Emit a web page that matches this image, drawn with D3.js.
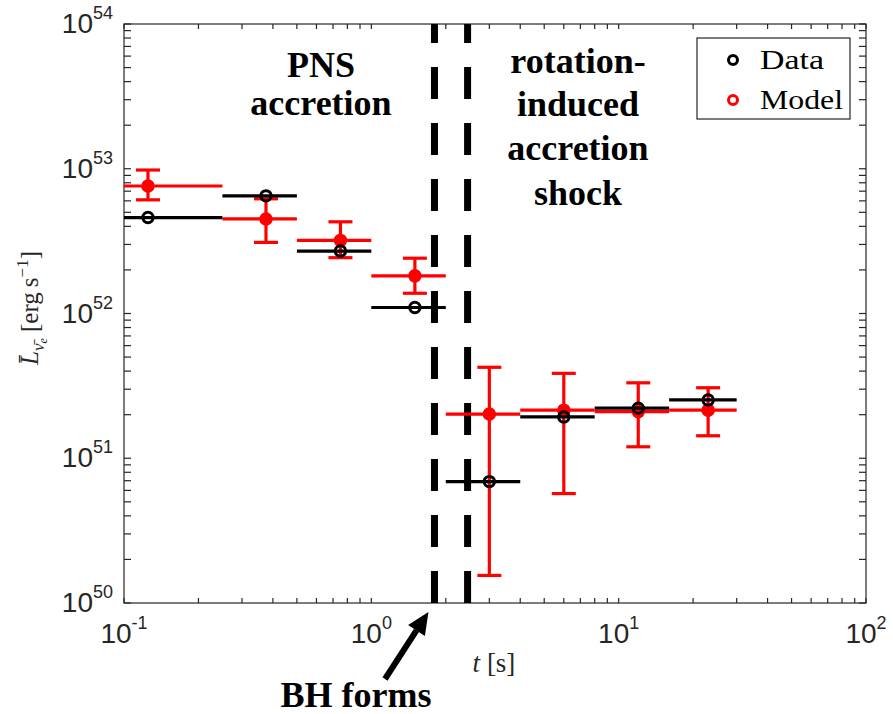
<!DOCTYPE html>
<html>
<head>
<meta charset="utf-8">
<script src="https://cdn.jsdelivr.net/npm/d3@7"></script>
<style>
  html, body { margin: 0; padding: 0; background: #fff; }
  svg { display: block; }
</style>
</head>
<body>
<svg id="chart" width="893" height="714"></svg>
<script>
// Time bins [s]
const binCenter = [0.125, 0.375, 0.75, 1.5, 3, 6, 12, 23];
const binLo     = [0.1, 0.25, 0.5, 1, 2, 4, 8, 16];
const binHi     = [0.25, 0.5, 1, 2, 4, 8, 16, 30];

// Mean anti-electron-neutrino luminosity [erg/s]
const dataLum   = [4.6e52, 6.5e52, 2.7e52, 1.1e52, 6.9e50, 1.93e51, 2.22e51, 2.53e51];
const modelLum  = [7.6e52, 4.5e52, 3.2e52, 1.82e52, 2.02e51, 2.15e51, 2.1e51, 2.15e51];
const modelLow  = [6.1e52, 3.1e52, 2.43e52, 1.38e52, 1.55e50, 5.7e50, 1.2e51, 1.43e51];
const modelHigh = [9.8e52, 6.2e52, 4.3e52, 2.41e52, 4.25e51, 3.86e51, 3.32e51, 3.07e51];

// Black-hole formation window [s]
const bhTimes = [1.8, 2.45];

// Axis ticks
const xTickExp = [-1, 0, 1, 2];
const yTickExp = [50, 51, 52, 53, 54];

const svg = d3.select("#chart");
const plotL = 124, plotR = 866, plotT = 24, plotB = 603;
const axisColor = "#262626";

const x = d3.scaleLog().domain([0.1, 100]).range([plotL, plotR]);
const y = d3.scaleLog().domain([1e50, 1e54]).range([plotB, plotT]);

// minor ticks for log axes
function logTicks(lo, hi) {
  const out = [];
  for (let e = lo; e < hi; e++) for (let m = 2; m <= 9; m++) out.push(m * Math.pow(10, e));
  return out;
}
const xMinor = logTicks(-1, 2);
const yMinor = logTicks(50, 54);

const axes = svg.append("g").attr("stroke", axisColor).attr("stroke-width", 1.2).attr("fill", "none");

// x ticks (bottom and top, inward)
xTickExp.map(e => Math.pow(10, e)).concat(xMinor).forEach(v => {
  const px = x(v);
  axes.append("line").attr("x1", px).attr("x2", px).attr("y1", plotB).attr("y2", plotB - 5);
  axes.append("line").attr("x1", px).attr("x2", px).attr("y1", plotT).attr("y2", plotT + 5);
});
// y ticks (left and right, inward)
yTickExp.map(e => Math.pow(10, e)).concat(yMinor).forEach(v => {
  const py = y(v);
  axes.append("line").attr("x1", plotL).attr("x2", plotL + 7).attr("y1", py).attr("y2", py);
  axes.append("line").attr("x1", plotR).attr("x2", plotR - 7).attr("y1", py).attr("y2", py);
});
axes.append("rect").attr("x", plotL).attr("y", plotT).attr("width", plotR - plotL).attr("height", plotB - plotT);

// tick labels
const tickFont = "'Liberation Sans', Arial, Helvetica, sans-serif";
xTickExp.forEach(e => {
  const t = svg.append("text").attr("x", x(Math.pow(10, e))).attr("y", 643)
    .attr("text-anchor", "middle").attr("font-family", tickFont).attr("fill", axisColor);
  t.append("tspan").attr("font-size", 28).text("10");
  t.append("tspan").attr("font-size", 18).attr("dy", -14).text(e < 0 ? "-" + Math.abs(e) : e);
});
yTickExp.forEach(e => {
  const t = svg.append("text").attr("x", 113).attr("y", y(Math.pow(10, e)) + 9)
    .attr("text-anchor", "end").attr("font-family", tickFont).attr("fill", axisColor);
  t.append("tspan").attr("font-size", 28).text("10");
  t.append("tspan").attr("font-size", 18).attr("dy", -14).text(e);
});

// axis labels
const mathFont = "'Liberation Serif', 'Times New Roman', serif";
const xl = svg.append("text").attr("x", 494).attr("y", 672).attr("text-anchor", "middle")
  .attr("font-family", mathFont).attr("font-size", 27).attr("fill", axisColor);
xl.append("tspan").attr("font-style", "italic").text("t");
xl.append("tspan").text(" [s]");

const yl = svg.append("text").attr("transform", "translate(38,308) rotate(-90)")
  .attr("text-anchor", "middle").attr("font-family", mathFont).attr("font-size", 25).attr("fill", axisColor);
yl.append("tspan").attr("font-style", "italic").text("L\u0304");
yl.append("tspan").attr("font-style", "italic").attr("font-size", 17).attr("dy", 6).text("\u03BD\u0304");
yl.append("tspan").attr("font-style", "italic").attr("font-size", 12).attr("dy", 3).text("e");
yl.append("tspan").attr("dy", -9).text(" [erg\u2009s");
yl.append("tspan").attr("font-size", 17).attr("dy", -10).text("\u22121");
yl.append("tspan").attr("dy", 10).text("]");

// black-hole formation: dashed vertical lines
bhTimes.forEach(t => {
  svg.append("line").attr("x1", x(t)).attr("x2", x(t)).attr("y1", plotB).attr("y2", plotT)
    .attr("stroke", "#000").attr("stroke-width", 7).attr("stroke-dasharray", "32,24");
});

// model: red horizontal bins, vertical error bars with caps, filled markers
const red = "#ff0000";
const model = svg.append("g").attr("stroke", red).attr("stroke-width", 3.2).attr("fill", "none");
binCenter.forEach((c, i) => {
  model.append("line").attr("x1", x(binLo[i])).attr("x2", x(binHi[i]))
    .attr("y1", y(modelLum[i])).attr("y2", y(modelLum[i]));
  model.append("line").attr("x1", x(c)).attr("x2", x(c))
    .attr("y1", y(modelLow[i])).attr("y2", y(modelHigh[i]));
  [modelLow[i], modelHigh[i]].forEach(v => {
    model.append("line").attr("x1", x(c) - 12).attr("x2", x(c) + 12).attr("y1", y(v)).attr("y2", y(v));
  });
  model.append("circle").attr("cx", x(c)).attr("cy", y(modelLum[i])).attr("r", 5.5)
    .attr("fill", red).attr("stroke-width", 2.5);
});

// data: black horizontal bins with open markers
const data = svg.append("g").attr("stroke", "#000").attr("stroke-width", 3.2).attr("fill", "none");
binCenter.forEach((c, i) => {
  data.append("line").attr("x1", x(binLo[i])).attr("x2", x(binHi[i]))
    .attr("y1", y(dataLum[i])).attr("y2", y(dataLum[i]));
  data.append("circle").attr("cx", x(c)).attr("cy", y(dataLum[i])).attr("r", 5.2).attr("stroke-width", 3);
});

// region annotations
const boldFont = "'Liberation Serif', 'Times New Roman', serif";
function block(lines, cx, baselines) {
  lines.forEach((s, i) => {
    svg.append("text").attr("x", cx).attr("y", baselines[i]).attr("text-anchor", "middle")
      .attr("font-family", boldFont).attr("font-weight", "bold").attr("font-size", 36)
      .attr("fill", "#000").text(s);
  });
}
block(["PNS", "accretion"], 321, [77, 115]);
block(["rotation-", "induced", "accretion", "shock"], 578, [73, 116, 160, 205]);
block(["BH forms"], 356, [707]);

// arrow pointing at black-hole formation time
const tipX = x(bhTimes[0]) - 6, tipY = 612;
const tailX = 385, tailY = 679;
const ang = Math.atan2(tipY - tailY, tipX - tailX);
const headLen = 22, headHalf = 10;
const bx = tipX - headLen * Math.cos(ang), by = tipY - headLen * Math.sin(ang);
svg.append("line").attr("x1", tailX).attr("y1", tailY).attr("x2", bx).attr("y2", by)
  .attr("stroke", "#000").attr("stroke-width", 6);
svg.append("path")
  .attr("d", `M${tipX},${tipY} L${bx + headHalf * Math.sin(ang)},${by - headHalf * Math.cos(ang)} L${bx - headHalf * Math.sin(ang)},${by + headHalf * Math.cos(ang)} Z`)
  .attr("fill", "#000");

// legend
const lg = svg.append("g");
lg.append("rect").attr("x", 697).attr("y", 38).attr("width", 153).attr("height", 81)
  .attr("fill", "#fff").attr("stroke", axisColor).attr("stroke-width", 1.2);
[["Data", "#000", 60, 64], ["Model", red, 100, 83]].forEach(([label, col, cy, w]) => {
  lg.append("circle").attr("cx", 733).attr("cy", cy).attr("r", 4.5).attr("fill", "none")
    .attr("stroke", col).attr("stroke-width", 3);
  lg.append("text").attr("x", 760).attr("y", cy + 9).attr("font-family", mathFont)
    .attr("font-size", 28).attr("fill", "#000")
    .attr("textLength", w).attr("lengthAdjust", "spacingAndGlyphs").text(label);
});
</script>
</body>
</html>
